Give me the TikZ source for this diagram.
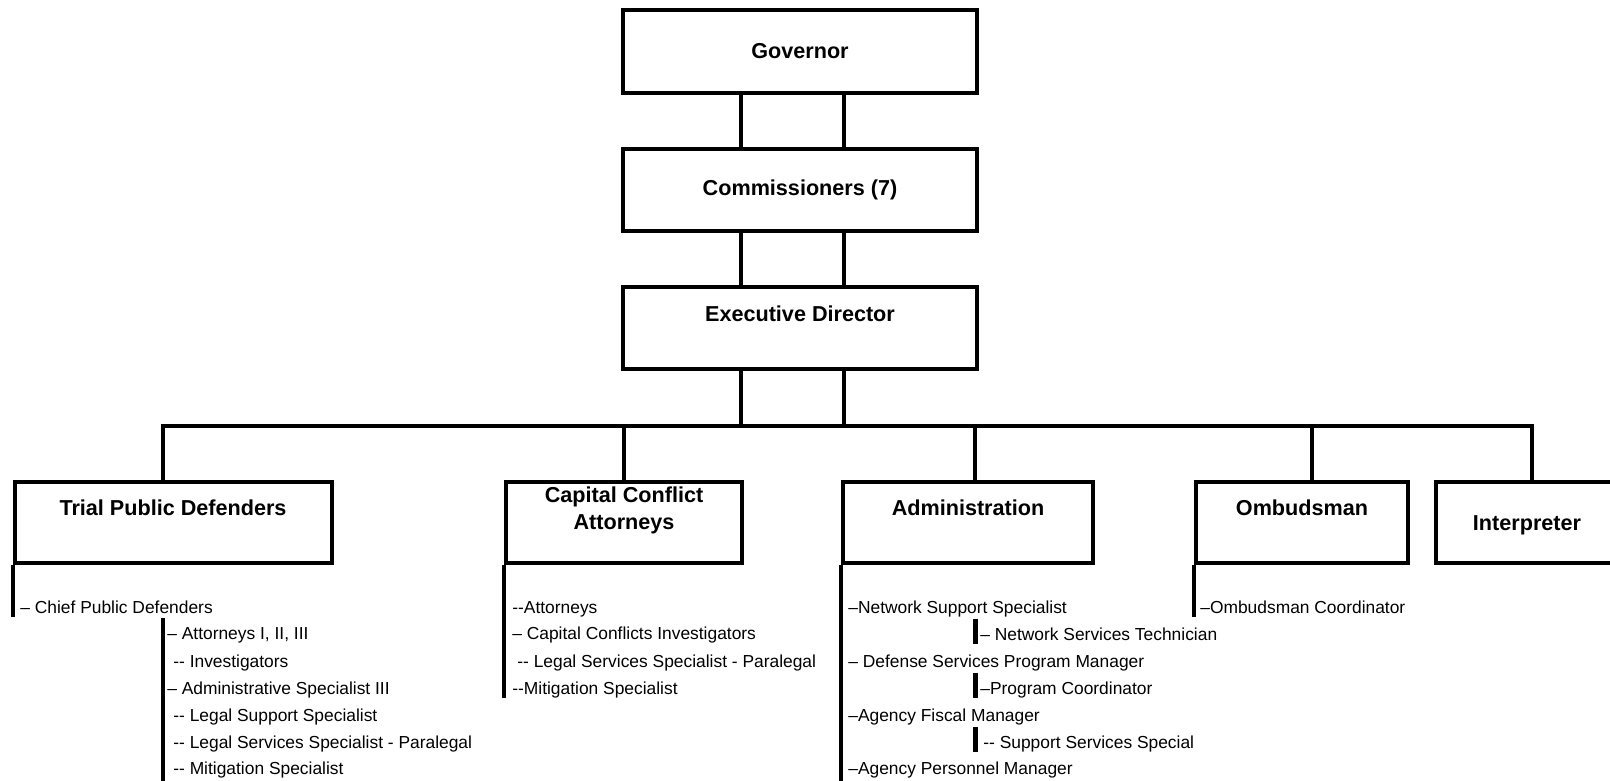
\documentclass[tikz,border=0pt]{standalone}
\usepackage{fontspec}
\setmainfont{Liberation Sans}
\usetikzlibrary{calc}

\tikzset{
  unit/.style={draw, line width=0.08cm, inner sep=0pt, font=\bfseries\fontsize{12.3}{15.3}\selectfont},
  title/.style={font=\bfseries\fontsize{12.3}{15.3}\selectfont, anchor=base, align=center, inner sep=0pt},
  item/.style={font=\fontsize{9.9}{12}\selectfont, anchor=base west, inner sep=0pt,
    text height=0.42cm, text depth=0.08cm},
  wire/.style={line width=0.08cm},
  bar/.style={line width=0.1cm},
}

\begin{document}
\begin{tikzpicture}[x=0.02cm, y=-0.02cm]
  \useasboundingbox (0,0) rectangle (1610,781);

  % top of the chart
  \node[unit, minimum width=7.08cm, minimum height=1.66cm] (gov) at (800,51.5) {Governor};
  \node[unit, minimum width=7.08cm, minimum height=1.64cm] (com) at (800,190) {Commissioners (7)};
  \node[unit, minimum width=7.08cm, minimum height=1.64cm] (exec) at (800,328) {};
  \node[title] (texec) at (800,321) {Executive Director};

  % divisions
  \node[unit, minimum width=6.34cm, minimum height=1.62cm] (trial) at (173.5,522.5) {};
  \node[unit, minimum width=4.72cm, minimum height=1.62cm] (cap) at (624,522.5) {};
  \node[unit, minimum width=5.00cm, minimum height=1.62cm] (adm) at (968,522.5) {};
  \node[unit, minimum width=4.24cm, minimum height=1.62cm] (omb) at (1302,522.5) {};
  \node[unit, minimum width=3.84cm, minimum height=1.62cm] (interp) at (1532,522.5) {};
  \node[title] (ttrial) at (173,515) {Trial Public Defenders};
  \node[title, anchor=center] (tcap) at (624,510) {Capital Conflict\\Attorneys};
  \node[title] (tadm) at (968,515) {Administration};
  \node[title] (tomb) at (1302,515) {Ombudsman};
  \node[title] (tinterp) at (1527,530) {Interpreter};

  \coordinate (lx) at (741,0);
  \coordinate (rx) at (844,0);
  \coordinate (bus) at (800,426);
  \coordinate (bottom) at (0,790);

  \draw[wire] (gov.south -| lx) -- (com.north -| lx);
  \draw[wire] (gov.south -| rx) -- (com.north -| rx);
  \draw[wire] (com.south -| lx) -- (exec.north -| lx);
  \draw[wire] (com.south -| rx) -- (exec.north -| rx);
  \draw[wire] (exec.south -| lx) -- (bus -| lx);
  \draw[wire] (exec.south -| rx) -- (bus -| rx);
  \draw[wire] ($(trial.north)+(-10.5,0)$) |- (bus -| interp.north) -- (interp.north);
  \draw[wire] (cap.north) -- (cap.north |- bus);
  \draw[wire] ($(adm.north)+(7,0)$) coordinate (admtop) -- (admtop |- bus);
  \draw[wire] ($(omb.north)+(10,0)$) coordinate (ombtop) -- (ombtop |- bus);

  % trial public defenders
  \node[item] (chief) at (20,613) {– Chief Public Defenders};
  \node[item] (att) at (167,639) {– Attorneys I, II, III};
  \node[item] (inv) at (173,667) {-{}- Investigators};
  \node[item] (adm3) at (167,694) {– Administrative Specialist III};
  \node[item] (lss) at (173,721) {-{}- Legal Support Specialist};
  \node[item] (lsp) at (173,748) {-{}- Legal Services Specialist - Paralegal};
  \node[item] (mit) at (173,774) {-{}- Mitigation Specialist};
  \draw[wire] (trial.south west) -- (trial.south west |- chief.south);
  \coordinate (tsub) at ([xshift=-0.08cm]att.north west);
  \draw[wire] (tsub) -- (tsub |- bottom);

  % capital conflict attorneys
  \node[item] (catt) at (512,613) {-{}-Attorneys};
  \node[item] (cci) at (512,639) {– Capital Conflicts Investigators};
  \node[item] (clsp) at (517,667) {-{}- Legal Services Specialist - Paralegal};
  \node[item] (cmit) at (512,694) {-{}-Mitigation Specialist};
  \draw[wire] (cap.south west) -- (cap.south west |- cmit.south);

  % administration
  \node[item] (net) at (848,613) {–Network Support Specialist};
  \node[item] (tech) at (980,640) {– Network Services Technician};
  \node[item] (dspm) at (848,667) {– Defense Services Program Manager};
  \node[item] (pc) at (980,694) {–Program Coordinator};
  \node[item] (afm) at (848,721) {–Agency Fiscal Manager};
  \node[item] (sss) at (983,748) {-{}- Support Services Special};
  \node[item] (apm) at (848,774) {–Agency Personnel Manager};
  \draw[wire] (adm.south west) -- (adm.south west |- bottom);
  \draw[bar] ([xshift=-0.1cm]tech.north west) -- ([xshift=-0.1cm]tech.south west);
  \draw[bar] ([xshift=-0.1cm]pc.north west) -- ([xshift=-0.1cm]pc.south west);
  \draw[bar] ([xshift=-0.16cm]sss.north west) -- ([xshift=-0.16cm]sss.south west);

  % ombudsman
  \node[item] (ocoord) at (1200,613) {–Ombudsman Coordinator};
  \draw[wire] (omb.south west) -- (omb.south west |- ocoord.south);
\end{tikzpicture}
\end{document}
